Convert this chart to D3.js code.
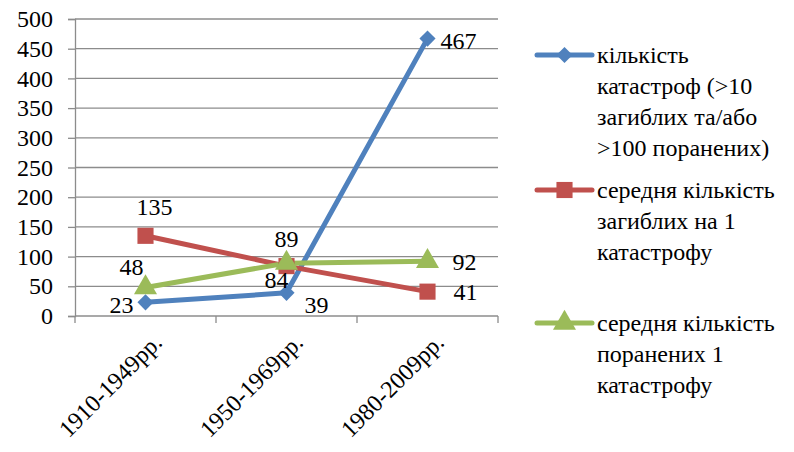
<!DOCTYPE html>
<html>
<head>
<meta charset="utf-8">
<script src="https://cdn.jsdelivr.net/npm/d3@7"></script>
<style>
  html, body { margin: 0; padding: 0; background: #fff; }
</style>
</head>
<body>
<svg id="chart" width="794" height="452" font-family="Liberation Serif">
  <g id="warm"><text x="780" y="445" font-size="24" font-family="Liberation Serif" fill="#fff">0</text></g>
  <g id="root"></g>
</svg>
<script>
// Periods on the x axis
const categories = ["1910-1949рр.", "1950-1969рр.", "1980-2009рр."];

// Series values
const disasters = [23, 39, 467];
const deathsPerDisaster = [135, 84, 41];
const injuredPerDisaster = [48, 89, 92];

// Legend texts (one entry per line)
const legendDisasters = ["кількість", "катастроф (>10", "загиблих та/або", ">100 поранених)"];
const legendDeaths = ["середня кількість", "загиблих на 1", "катастрофу"];
const legendInjured = ["середня кількість", "поранених 1", "катастрофу"];

const yTicks = [0, 50, 100, 150, 200, 250, 300, 350, 400, 450, 500];

const FONT = "Liberation Serif";
const svg = d3.select("#root");
const plot = { left: 75, right: 498, top: 19, bottom: 316 };
const fontSize = 24;

const x = d3.scaleBand().domain(categories).range([plot.left, plot.right]);
const y = d3.scaleLinear().domain([0, 500]).range([plot.bottom, plot.top]);
const cx = c => x(c) + x.bandwidth() / 2;

// Series definitions (diamond = square turned by 45 degrees)
const series = [
  { values: disasters, color: "#4F81BD", symbol: d3.symbolSquare, size: 130, rot: 45, legend: legendDisasters, ly: 55 },
  { values: deathsPerDisaster, color: "#C0504D", symbol: d3.symbolSquare, size: 260, rot: 0, legend: legendDeaths, ly: 190 },
  { values: injuredPerDisaster, color: "#9BBB59", symbol: d3.symbolTriangle, size: 230, rot: 0, legend: legendInjured, ly: 323 }
];

// Data labels: offsets relative to each point (dx, dy to baseline, anchor)
const labelOffsets = [
  [[-24, 11, "middle"], [18, 20, "start"], [13, 10, "start"]],
  [[9, -21, "middle"], [-10, 22, "middle"], [26, 8, "start"]],
  [[-14, -12, "middle"], [0, -16, "middle"], [25, 9, "start"]]
];

// Horizontal gridlines
svg.append("g")
  .selectAll("line")
  .data(yTicks.filter(t => t > 0))
  .join("line")
  .attr("x1", plot.left).attr("x2", plot.right)
  .attr("y1", d => y(d)).attr("y2", d => y(d))
  .attr("stroke", "#8c8c8c").attr("stroke-width", 1.3);

// Y axis
const yAxis = svg.append("g")
  .attr("transform", `translate(${plot.left},0)`)
  .call(d3.axisLeft(y).tickValues(yTicks).tickSize(7).tickPadding(15));
yAxis.attr("font-family", FONT);
yAxis.select(".domain").attr("stroke", "#8c8c8c").attr("stroke-width", 1.3);
yAxis.selectAll(".tick line").attr("stroke", "#8c8c8c").attr("stroke-width", 1.3);
yAxis.selectAll(".tick text")
  .attr("font-family", FONT).attr("font-size", fontSize).attr("fill", "#000");

// X axis with ticks between categories
const xAxisG = svg.append("g");
xAxisG.append("line")
  .attr("x1", plot.left).attr("x2", plot.right)
  .attr("y1", plot.bottom).attr("y2", plot.bottom)
  .attr("stroke", "#8c8c8c").attr("stroke-width", 1.3);
const xTickPos = categories.map(c => x(c)).concat([x(categories[categories.length - 1]) + x.bandwidth()]);
xAxisG.selectAll("line.tk")
  .data(xTickPos)
  .join("line").attr("class", "tk")
  .attr("x1", d => d).attr("x2", d => d)
  .attr("y1", plot.bottom).attr("y2", plot.bottom + 7)
  .attr("stroke", "#8c8c8c").attr("stroke-width", 1.3);
xAxisG.selectAll("text")
  .data(categories)
  .join("text")
  .attr("transform", d => `translate(${cx(d) + 6},${plot.bottom + 16}) rotate(-45)`)
  .attr("text-anchor", "end")
  .attr("dy", "0.7em")
  .attr("font-family", FONT)
  .attr("font-size", fontSize)
  .text(d => d);

const line = d3.line().x(d => cx(d.c)).y(d => y(d.v));

series.forEach(s => {
  const pts = categories.map((c, i) => ({ c, v: s.values[i] }));
  svg.append("path")
    .datum(pts)
    .attr("d", line)
    .attr("fill", "none")
    .attr("stroke", s.color)
    .attr("stroke-width", 5)
    .attr("stroke-linejoin", "round");
});

series.forEach(s => {
  const pts = categories.map((c, i) => ({ c, v: s.values[i] }));
  svg.append("g").selectAll("path")
    .data(pts)
    .join("path")
    .attr("transform", d => `translate(${cx(d.c)},${y(d.v)}) rotate(${s.rot})`)
    .attr("d", d3.symbol().type(s.symbol).size(s.size))
    .attr("fill", s.color);
});

series.forEach((s, si) => {
  svg.append("g").selectAll("text")
    .data(categories.map((c, i) => ({ c, v: s.values[i], o: labelOffsets[si][i] })))
    .join("text")
    .attr("x", d => cx(d.c) + d.o[0])
    .attr("y", d => y(d.v) + d.o[1])
    .attr("text-anchor", d => d.o[2])
    .attr("font-family", FONT)
    .attr("font-size", fontSize)
    .attr("fill", "#000")
    .text(d => d.v);
});

// Legend
series.forEach(s => {
  const g = svg.append("g");
  g.append("line")
    .attr("x1", 537).attr("x2", 592)
    .attr("y1", s.ly).attr("y2", s.ly)
    .attr("stroke", s.color).attr("stroke-width", 5).attr("stroke-linecap", "round");
  g.append("path")
    .attr("transform", `translate(564.5,${s.ly}) rotate(${s.rot})`)
    .attr("d", d3.symbol().type(s.symbol).size(s.size))
    .attr("fill", s.color);
  g.selectAll("text")
    .data(s.legend)
    .join("text")
    .attr("x", 597)
    .attr("y", (d, i) => s.ly + 8 + i * 31)
    .attr("font-family", FONT)
    .attr("font-size", fontSize)
    .attr("fill", "#000")
    .text(d => d);
});
</script>
</body>
</html>
